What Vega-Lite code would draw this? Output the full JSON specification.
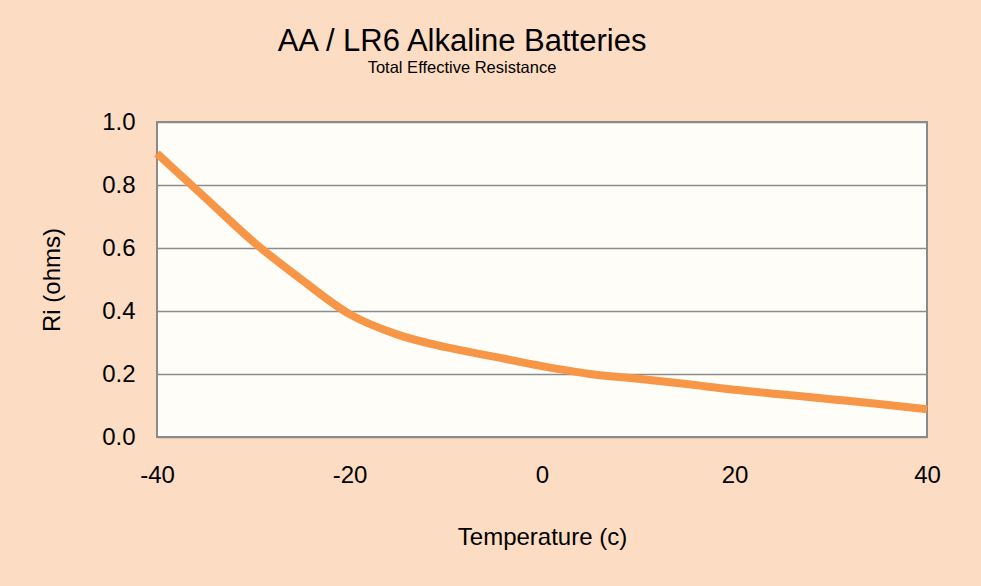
{
  "$schema": "https://vega.github.io/schema/vega-lite/v6.json",
  "width": 770,
  "height": 315,
  "autosize": {"type": "none"},
  "padding": {"left": 157, "top": 122, "right": 54, "bottom": 149},
  "background": "#fcdcc2",
  "config": {
    "font": "Liberation Sans",
    "view": {"fill": "#fffdf8", "stroke": "#8a8a8a", "strokeWidth": 2}
  },
  "title": {
    "text": "AA / LR6 Alkaline Batteries",
    "subtitle": "Total Effective Resistance",
    "anchor": "middle",
    "frame": "group",
    "dx": -80,
    "offset": 33,
    "fontSize": 31,
    "fontWeight": "normal",
    "color": "#000000",
    "subtitleFontSize": 16.5,
    "subtitleColor": "#000000",
    "subtitlePadding": 2,
    "font": "Liberation Sans",
    "subtitleFont": "Liberation Sans"
  },
  "data": {
    "values": [
      {"temp": -40, "ri": 0.90},
      {"temp": -35, "ri": 0.76},
      {"temp": -30, "ri": 0.62},
      {"temp": -25, "ri": 0.50},
      {"temp": -20, "ri": 0.39},
      {"temp": -15, "ri": 0.325},
      {"temp": -10, "ri": 0.285},
      {"temp": -5, "ri": 0.255},
      {"temp": 0, "ri": 0.225},
      {"temp": 5, "ri": 0.20},
      {"temp": 10, "ri": 0.185},
      {"temp": 15, "ri": 0.168},
      {"temp": 20, "ri": 0.15},
      {"temp": 25, "ri": 0.135},
      {"temp": 30, "ri": 0.12},
      {"temp": 35, "ri": 0.105},
      {"temp": 40, "ri": 0.088}
    ]
  },
  "mark": {"type": "line", "color": "#f79646", "strokeWidth": 8, "interpolate": "monotone", "strokeCap": "butt"},
  "encoding": {
    "x": {
      "field": "temp",
      "type": "quantitative",
      "scale": {"domain": [-40, 40], "nice": false, "zero": false},
      "axis": {
        "title": "Temperature (c)",
        "values": [-40, -20, 0, 20, 40],
        "labelExpr": "'' + datum.value",
        "labelFlush": false,
        "grid": false,
        "domain": false,
        "ticks": false,
        "labelFontSize": 24,
        "labelColor": "#000000",
        "labelPadding": 26,
        "titleFontSize": 24,
        "titleFontWeight": "normal",
        "titleColor": "#000000",
        "titlePadding": 38
      }
    },
    "y": {
      "field": "ri",
      "type": "quantitative",
      "scale": {"domain": [0, 1], "nice": false},
      "axis": {
        "title": "Ri (ohms)",
        "values": [0, 0.2, 0.4, 0.6, 0.8, 1.0],
        "format": ".1f",
        "grid": true,
        "gridColor": "#8c8c8c",
        "gridWidth": 1.5,
        "domain": false,
        "ticks": false,
        "labelFontSize": 24,
        "labelColor": "#000000",
        "labelPadding": 22,
        "titleFontSize": 24,
        "titleFontWeight": "normal",
        "titleColor": "#000000",
        "titlePadding": 37
      }
    }
  }
}
